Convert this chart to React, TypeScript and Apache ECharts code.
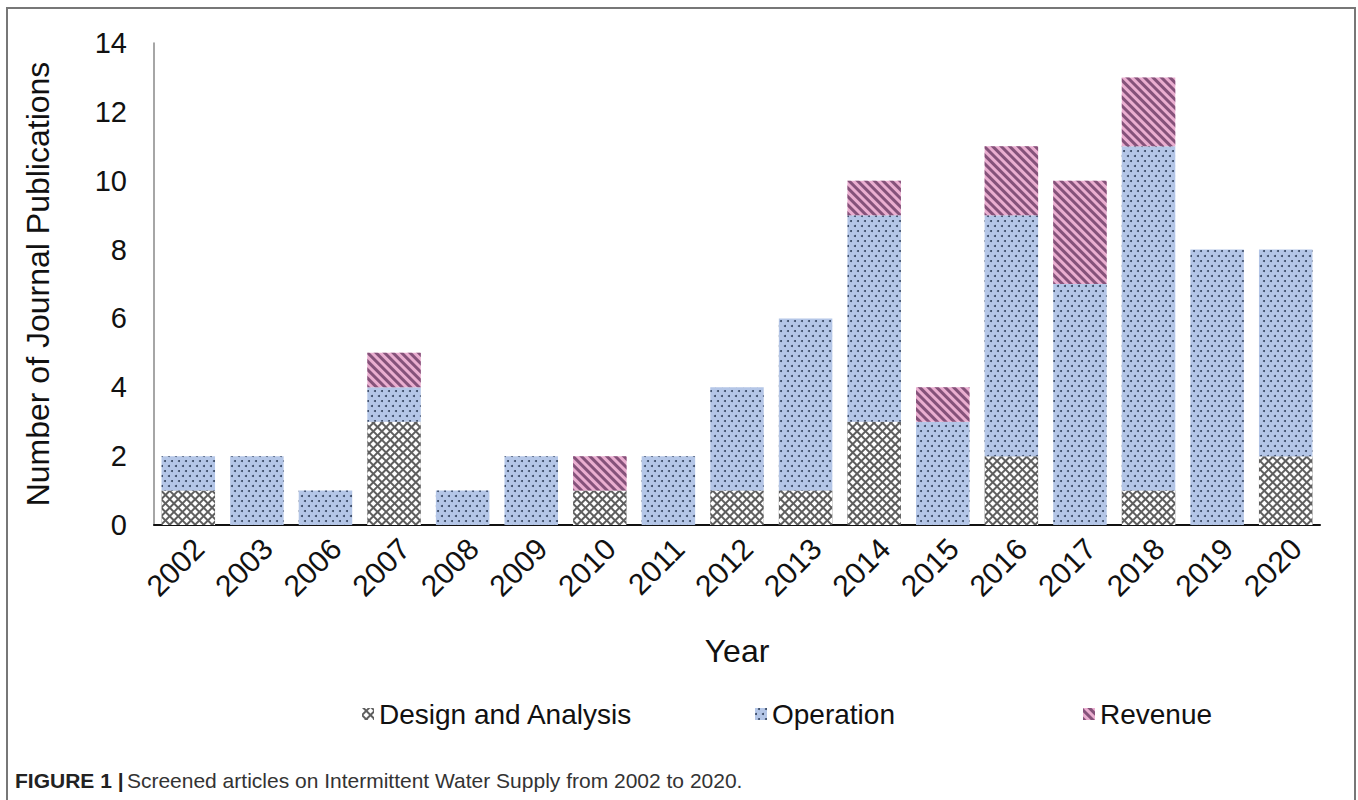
import React, { useEffect, useRef } from "react";
import * as echarts from "echarts";

const years = ["2002", "2003", "2006", "2007", "2008", "2009", "2010", "2011", "2012", "2013", "2014", "2015", "2016", "2017", "2018", "2019", "2020"];
const designAnalysis = [1, 0, 0, 3, 0, 0, 1, 0, 1, 1, 3, 0, 2, 0, 1, 0, 2];
const operation = [1, 2, 1, 1, 1, 2, 0, 2, 3, 5, 6, 3, 7, 7, 10, 8, 6];
const revenue = [0, 0, 0, 1, 0, 0, 1, 0, 0, 0, 1, 1, 2, 3, 2, 0, 0];
const seriesNames = ["Design and Analysis", "Operation", "Revenue"];

const FONT = "Arial, 'Liberation Sans', Helvetica, sans-serif";

export default function App() {
  const ref = useRef<HTMLDivElement>(null);
  useEffect(() => {
    if (!ref.current) return;
    const chart = echarts.init(ref.current, undefined, { renderer: "svg" });
    const designDecal = {
      symbol: "rect",
      symbolSize: 1,
      color: "#ffffff",
      dashArrayX: [3.5, 1.8],
      dashArrayY: [3.5, 1.8],
      rotation: Math.PI / 4,
    };
    const opDecal = {
      symbol: "circle",
      symbolSize: 1,
      color: "#34445f",
      dashArrayX: [[1.6, 4.4], [0, 3, 1.6, 1.4]],
      dashArrayY: [1.6, 2.4],
      rotation: 0,
    };
    const revDecal = {
      symbol: "rect",
      symbolSize: 1,
      color: "#85527a",
      dashArrayX: [1, 0],
      dashArrayY: [2.5, 2.5],
      rotation: Math.PI / 4,
    };
    const legendBase = {
      top: 695,
      itemWidth: 12,
      itemHeight: 12,
      icon: "rect",
      textStyle: { fontSize: 28, color: "#111", fontFamily: FONT },
    };
    chart.setOption({
      animation: false,
      backgroundColor: "#ffffff",
      textStyle: { fontFamily: FONT },
      grid: { left: 154, right: 38, top: 43, height: 482 },
      legend: [
        { ...legendBase, left: 357, data: [seriesNames[0]] },
        { ...legendBase, left: 750, data: [seriesNames[1]] },
        { ...legendBase, left: 1078, data: [seriesNames[2]] },
      ],
      xAxis: {
        type: "category",
        data: years,
        name: "Year",
        nameLocation: "middle",
        nameGap: 110,
        nameTextStyle: { fontSize: 32, color: "#111", fontFamily: FONT, verticalAlign: "top" },
        axisLine: { lineStyle: { color: "#111", width: 2 } },
        axisTick: { show: false },
        axisLabel: {
          rotate: 45,
          fontSize: 30,
          color: "#111",
          fontFamily: FONT,
          margin: 8,
          verticalAlign: "top",
          interval: 0,
        },
      },
      yAxis: {
        type: "value",
        min: 0,
        max: 14,
        interval: 2,
        name: "Number of Journal Publications",
        nameLocation: "middle",
        nameGap: 100,
        nameTextStyle: { fontSize: 32, color: "#111", fontFamily: FONT },
        axisLine: { show: true, lineStyle: { color: "#888", width: 1.5 } },
        axisTick: { show: false },
        splitLine: { show: false },
        axisLabel: { fontSize: 29, color: "#111", fontFamily: FONT, margin: 27 },
      },
      series: [
        {
          name: seriesNames[0],
          type: "bar",
          stack: "total",
          barWidth: "78%",
          data: designAnalysis,
          itemStyle: { color: "#5e5e5e", decal: designDecal },
        },
        {
          name: seriesNames[1],
          type: "bar",
          stack: "total",
          data: operation,
          itemStyle: { color: "#b4c6e7", decal: opDecal },
        },
        {
          name: seriesNames[2],
          type: "bar",
          stack: "total",
          data: revenue,
          itemStyle: { color: "#eaaed0", decal: revDecal },
        },
      ],
      graphic: [
        {
          type: "rect",
          shape: { x: 7, y: 8, width: 1348, height: 820 },
          style: { fill: "none", stroke: "#777", lineWidth: 2 },
          silent: true,
        },
        {
          type: "text",
          left: 15,
          top: 770,
          style: {
            text: "{b|FIGURE 1 |} {r|Screened articles on Intermittent Water Supply from 2002 to 2020.}",
            rich: {
              b: { fontSize: 21, fontWeight: "bold", fill: "#222", fontFamily: FONT },
              r: { fontSize: 21, fill: "#333", fontFamily: FONT },
            },
          },
        },
      ],
    });
    return () => chart.dispose();
  }, []);
  return (
    <div
      ref={ref}
      style={{ position: "fixed", left: 0, top: 0, width: 1358, height: 800 }}
    />
  );
}
